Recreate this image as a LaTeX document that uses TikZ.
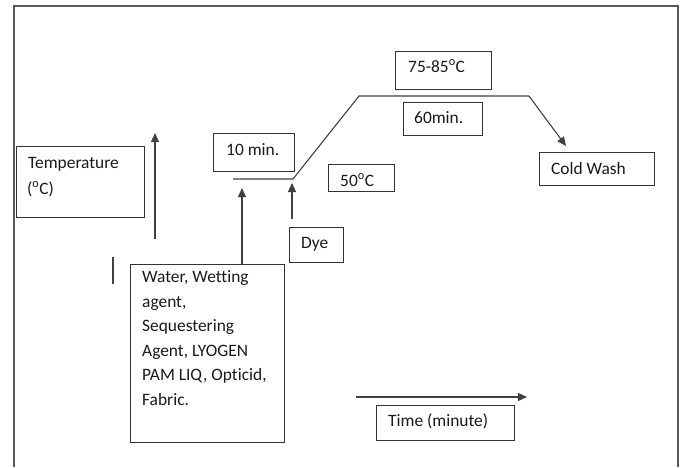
\documentclass[tikz,border=0pt]{standalone}
\usepackage{fontspec}
\setmainfont{Carlito}[Ligatures=NoCommon]
\usetikzlibrary{arrows.meta}
\begin{document}
\begin{tikzpicture}[x=1pt,y=-1pt,
  box/.style={draw=black!80,line width=1.1pt,rectangle,inner sep=0pt,anchor=north west},
  txt/.style={anchor=base west,inner sep=0pt,text=black!90,font=\fontsize{17.4}{24.5}\selectfont},
  ln/.style={draw=black!75,line width=1.1pt},
  arr/.style={ln,-{Triangle[length=9pt,width=8pt]}}]
\useasboundingbox (0,0) rectangle (686,467);
% frame
\draw[draw=black!65,line width=1.6pt] (14,467) -- (14,6) -- (678,6) -- (678,467);
% boxes
\node[box,minimum width=128pt,minimum height=71pt] (tbox) at (16,146) {};
\node[box,minimum width=81pt,minimum height=38pt] (mbox) at (213,133) {};
\node[box,minimum width=54pt,minimum height=35pt] (dbox) at (289,227) {};
\node[box,minimum width=154pt,minimum height=178pt] (wbox) at (130,264) {};
\node[box,minimum width=96pt,minimum height=38pt] (hbox) at (395,51) {};
\node[box,minimum width=79pt,minimum height=33pt] (sbox) at (403,102) {};
\node[box,minimum width=66pt,minimum height=27pt] (fbox) at (328,164) {};
\node[box,minimum width=115pt,minimum height=33pt] (cbox) at (539,152) {};
\node[box,minimum width=138pt,minimum height=35pt] (xbox) at (376,405) {};
% texts
\node[txt] (t1) at (28,168) {Temperature};
\node[txt] (t2) at (27,194) {(\textsuperscript{o}C)};
\node[txt] (t3) at (226,155) {10 min.};
\node[txt] (t4) at (301,248) {Dye};
\node[txt,align=left,anchor=north west] (t5) at (142,270.5) {Water, Wetting\\agent,\\Sequestering\\Agent, LYOGEN\\PAM LIQ, Opticid,\\Fabric.};
\node[txt] (t6) at (408,72) {75-85\textsuperscript{o}C};
\node[txt] (t7) at (414,123) {60min.};
\node[txt] (t8) at (340,186) {50\textsuperscript{o}C};
\node[txt] (t9) at (551,174) {Cold Wash};
\node[txt] (t10) at (388,426) {Time (minute)};
% coordinates
\coordinate (ta1) at (155,239);
\coordinate (ta2) at (155,133);
\coordinate (v1) at (113,257);
\coordinate (v2) at (113,284);
\coordinate (p0) at (233,179);
\coordinate (p1) at (293,179);
\coordinate (p2) at (359,96);
\coordinate (p3) at (529,96);
\coordinate (p4) at (566,146);
\coordinate (wa) at (242,188);
\coordinate (da1) at (292,219);
\coordinate (da2) at (292,183);
\coordinate (x1) at (356,397);
\coordinate (x2) at (527,397);
% connectors
\draw[arr] (ta1) -- (ta2);
\draw[ln] (v1) -- (v2);
\draw[ln] (p0) -- (p1) -- (p2) -- (p3);
\draw[arr] (p3) -- (p4);
\draw[arr] (wa |- wbox.north) -- (wa);
\draw[arr] (da1) -- (da2);
\draw[arr] (x1) -- (x2);
\end{tikzpicture}
\end{document}
